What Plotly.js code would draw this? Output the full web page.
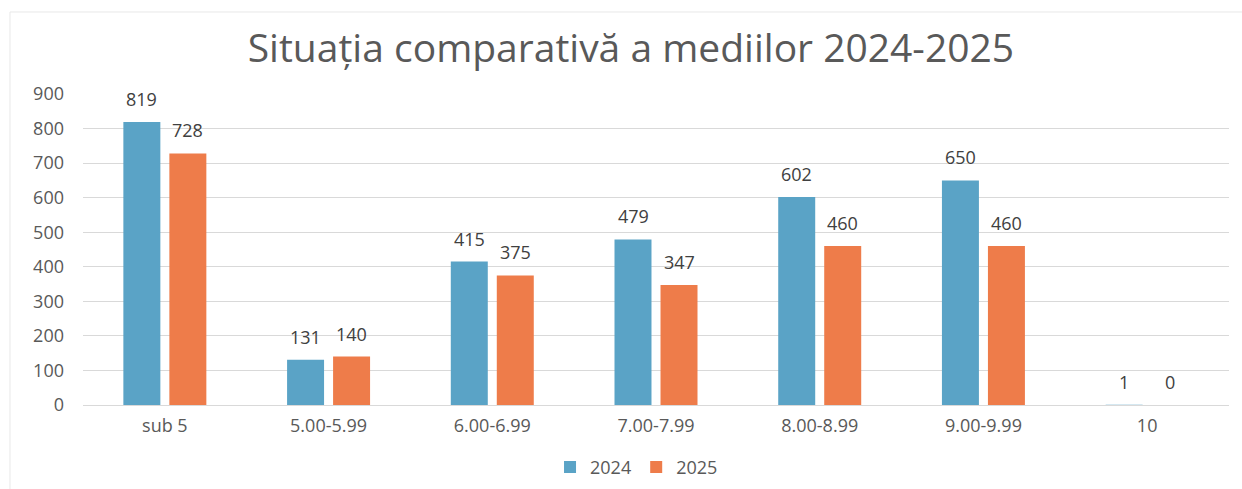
<!DOCTYPE html>
<html>
<head>
<meta charset="utf-8">
<script src="https://cdn.plot.ly/plotly-3.0.1.min.js"></script>
<style>
  html, body { margin: 0; padding: 0; background: #fff; }
  #chart { width: 1242px; height: 489px; }
</style>
</head>
<body>
<div id="chart"></div>
<script>
const categories = ["sub 5", "5.00-5.99", "6.00-6.99", "7.00-7.99", "8.00-8.99", "9.00-9.99", "10"];
const values2024 = [819, 131, 415, 479, 602, 650, 1];
const values2025 = [728, 140, 375, 347, 460, 460, 0];
const seriesNames = ["2024", "2025"];
const yTicks = [0, 100, 200, 300, 400, 500, 600, 700, 800, 900];

const blue = "#5aa3c6";
const orange = "#ee7c4a";
const font = "Open Sans, sans-serif";

const traces = [
  { type: "bar", name: seriesNames[0], x: categories, y: values2024, marker: { color: blue }, hoverinfo: "none" },
  { type: "bar", name: seriesNames[1], x: categories, y: values2025, marker: { color: orange }, hoverinfo: "none" }
];

const annotations = [];
[values2024, values2025].forEach((vals, si) => {
  vals.forEach((v, i) => {
    annotations.push({
      x: i, y: v, xref: "x", yref: "y",
      text: String(v), showarrow: false,
      xshift: si === 0 ? -23 : 23, yshift: 9,
      yanchor: "bottom",
      font: { family: font, size: 18, color: "#404040" }
    });
  });
});

const layout = {
  width: 1242, height: 489,
  margin: { l: 83, r: 13, t: 94, b: 84, autoexpand: false },
  paper_bgcolor: "#fff", plot_bgcolor: "#fff",
  title: {
    text: "Situația comparativă a mediilor 2024-2025",
    font: { family: font, size: 39, color: "#595959" },
    x: 0.508, xanchor: "center", xref: "container",
    y: 0.902, yanchor: "middle", yref: "container"
  },
  barmode: "group",
  bargap: 0.438,
  bargroupgap: 0.196,
  xaxis: {
    type: "category",
    range: [-0.5, categories.length - 0.5],
    autorange: false,
    tickfont: { family: font, size: 18, color: "#595959" },
    ticks: "", showgrid: false, showline: false, zeroline: false,
    ticklabelstandoff: 8
  },
  yaxis: {
    range: [0, 900],
    autorange: false,
    tickvals: yTicks,
    tickfont: { family: font, size: 18, color: "#595959" },
    ticks: "", showgrid: true, gridcolor: "#d9d9d9", gridwidth: 1,
    zeroline: true, zerolinecolor: "#d9d9d9", zerolinewidth: 1,
    showline: false, ticklabelstandoff: 18
  },
  showlegend: true,
  legend: {
    orientation: "h", x: 0.5125, xref: "container", xanchor: "center", y: -0.2, yanchor: "middle",
    font: { family: font, size: 18, color: "#595959" },
    itemwidth: 30, traceorder: "normal"
  },
  annotations: annotations,
  shapes: [
    { type: "line", xref: "paper", yref: "paper", x0: -0.0637, x1: 1.02, y0: 1.2637, y1: 1.2637, line: { color: "#e8e8e8", width: 1 } },
    { type: "line", xref: "paper", yref: "paper", x0: -0.0637, x1: -0.0637, y0: 1.2637, y1: -0.3, line: { color: "#e8e8e8", width: 1 } }
  ]
};

Plotly.newPlot("chart", traces, layout, { displayModeBar: false, staticPlot: true });
</script>
</body>
</html>
